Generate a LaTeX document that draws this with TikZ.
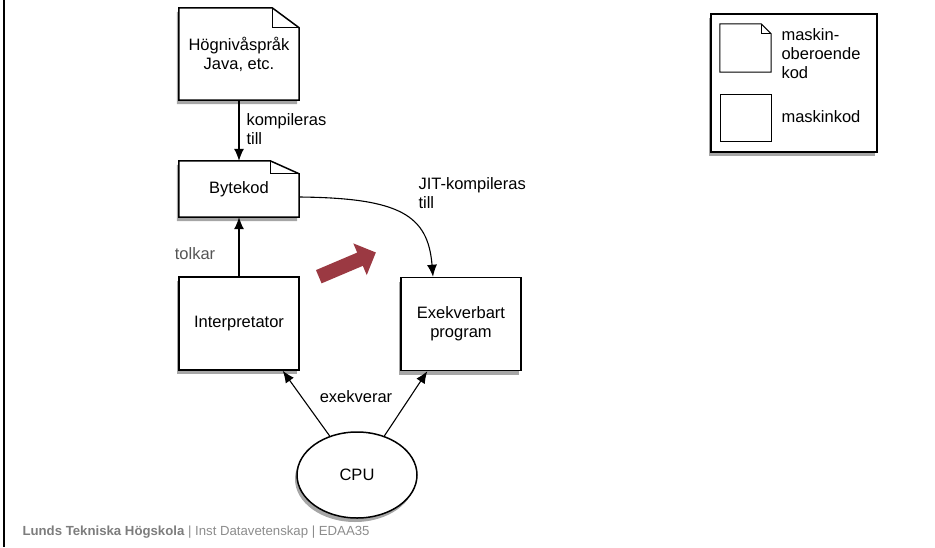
\documentclass[tikz,border=0pt]{standalone}
\usepackage{fontspec}
\setmainfont{Liberation Sans}
\usetikzlibrary{arrows.meta,shapes.geometric,shapes.arrows,shadows,backgrounds}
\definecolor{arrowred}{RGB}{155,57,66}
\definecolor{labelgray}{RGB}{85,85,85}
\definecolor{footgray}{RGB}{125,125,125}
\definecolor{footlight}{RGB}{140,140,140}
% outline of a page with a folded corner, drawn behind the node
\newcommand{\dogear}[4]{%
  \begin{scope}[on background layer]
    \draw[fill=white, #4] (#1.south west) -- (#1.north west) -- ([xshift=-#2pt]#1.north east)
      -- ([yshift=-#3pt]#1.north east) -- (#1.south east) -- cycle;
    \draw[line width=0.8pt] ([xshift=-#2pt]#1.north east) -- ([xshift=-#2pt,yshift=-#3pt]#1.north east)
      -- ([yshift=-#3pt]#1.north east);
  \end{scope}}
\begin{document}
\begin{tikzpicture}[
    x=1pt, y=-1pt,
    font=\fontsize{16.5}{19}\selectfont,
    boxshadow/.style={drop shadow={shadow xshift=-2pt, shadow yshift=-4pt, fill=black, opacity=0.35}},
    box/.style={draw, line width=1.5pt, fill=white, boxshadow, minimum width=120, minimum height=93, align=center},
    docnode/.style={minimum width=120, align=center},
    conn/.style={line width=1.1pt, -{Latex[length=12pt,width=10pt]}},
    lbl/.style={align=left, anchor=west},
    bigarrow/.style={single arrow, fill=arrowred, draw=none, inner sep=7pt, single arrow head extend=10pt, minimum height=62}
]
    \useasboundingbox (0,0) rectangle (935,547);
    \draw[line width=2.5pt] (4,0) -- (4,547);

    % --- Source and bytecode (left) ---
    \node[docnode, minimum height=92] (hll) at (239,54) {Högnivåspråk\\Java, etc.};
    \dogear{hll}{27}{20}{line width=1.5pt, boxshadow}
    \node[docnode, minimum height=56] (byte) at (239,189) {Bytekod};
    \dogear{byte}{29}{13}{line width=1.5pt, boxshadow}
    \draw[conn] (hll) -- (byte);
    \node[lbl] (lblcomp) at (243,129) {kompileras\\till};

    % --- Interpreter ---
    \node[box] (interp) at (239,323.5) {Interpretator};
    \draw[conn] (interp) -- (byte);
    \node[labelgray] (lbltolk) at (195,254) {tolkar};

    % --- Compiled program (right) ---
    \node[box] (exe) at (461,324) {Exekverbart\\program};
    \draw[conn] ([yshift=-8pt]byte.east) .. controls (400,198) and (428,215) .. ([xshift=-28pt]exe.north);
    \node[lbl] (lbljit) at (415,193) {JIT-kompileras\\till};
    \node[bigarrow, rotate=23] (shift) at (344,266) {};

    % --- CPU ---
    \node[draw, ellipse, line width=1.5pt, fill=white, boxshadow, minimum width=120, minimum height=86] (cpu) at (357,475) {CPU};
    \draw[conn] (cpu.125) -- ([xshift=-17pt]interp.south east);
    \draw[conn] (cpu.55) -- ([xshift=27pt]exe.south west);
    \node (lblexe) at (356,397) {exekverar};

    % --- Legend ---
    \begin{scope}[on background layer]
      \node[box, minimum width=166, minimum height=138] (legend) at (794,83) {};
    \end{scope}
    \node[docnode, minimum width=51, minimum height=48] (legdoc) at (745.5,48) {};
    \dogear{legdoc}{10}{10}{line width=1pt}
    \node[lbl] (legdoctxt) at (778,54) {maskin-\\oberoende\\kod};
    \node[draw, line width=1pt, minimum width=51, minimum height=47] (legsq) at (745.5,117.5) {};
    \node[lbl] (legsqtxt) at (778,117) {maskinkod};

    % --- Footer ---
    \node[anchor=west, font=\fontsize{13.2}{15}\selectfont, footlight] (foot) at (19,532)
      {\textcolor{footgray}{\bfseries Lunds Tekniska Högskola} | Inst Datavetenskap | EDAA35};
\end{tikzpicture}
\end{document}
